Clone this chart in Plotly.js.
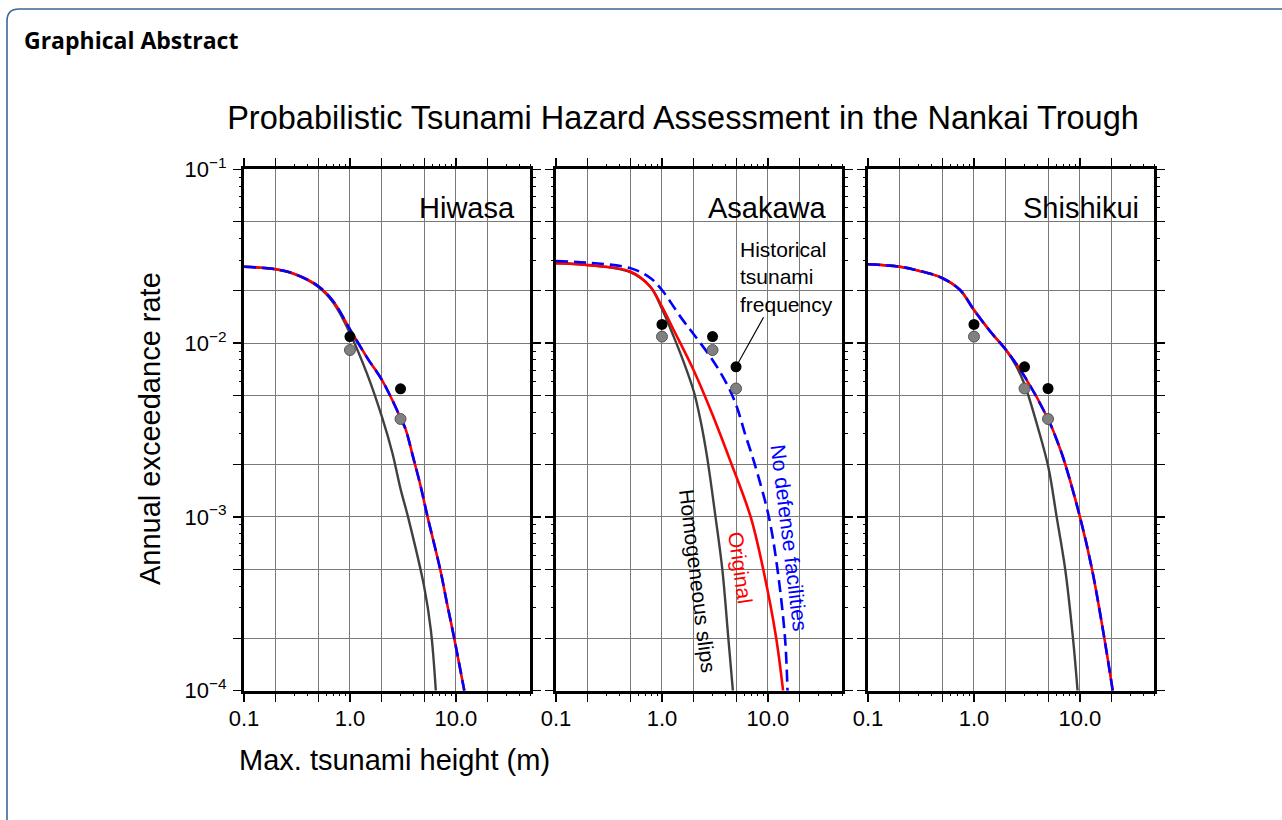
<!DOCTYPE html>
<html>
<head>
<meta charset="utf-8">
<script src="https://cdn.plot.ly/plotly-3.0.1.min.js"></script>
<style>
  html, body { margin: 0; padding: 0; background: #ffffff; }
  #chart { width: 1282px; height: 820px; }
</style>
</head>
<body>
<div id="chart"></div>
<script>
// ---------------- DATA ----------------
const stations = ['Hiwasa', 'Asakawa', 'Shishikui'];

// Hiwasa
const hiwasaHomogeneousX = [0.1, 0.2, 0.3, 0.5, 0.7, 1.0, 1.46, 2.0, 2.51, 3.0, 3.53, 5.0, 5.8, 6.46];
const hiwasaHomogeneousY = [0.0275, 0.0266, 0.0249, 0.0211, 0.0170, 0.0114, 0.00658, 0.00377, 0.00234, 0.00145, 0.001, 0.0004, 0.000223, 0.0001];
const hiwasaOriginalX = [0.1, 0.2, 0.3, 0.5, 0.7, 1.0, 1.46, 2.0, 2.5, 3.0, 3.36, 3.91, 4.61, 5.4, 7.1, 8.22, 9.64, 12.0];
const hiwasaOriginalY = [0.0275, 0.0266, 0.0250, 0.0213, 0.0173, 0.0120, 0.0082, 0.00615, 0.00472, 0.00371, 0.00318, 0.00225, 0.00153, 0.001, 0.0005, 0.00032, 0.0002, 0.0001];
const hiwasaNoDefenseX = [0.1, 0.2, 0.3, 0.5, 0.7, 1.0, 1.46, 2.0, 2.5, 3.0, 3.36, 3.91, 4.61, 5.4, 7.1, 8.22, 9.64, 12.0];
const hiwasaNoDefenseY = [0.0275, 0.0266, 0.0250, 0.0213, 0.0173, 0.0120, 0.0082, 0.00615, 0.00472, 0.00371, 0.00318, 0.00225, 0.00153, 0.001, 0.0005, 0.00032, 0.0002, 0.0001];
const hiwasaHistX = [1, 3];
const hiwasaHistBlack = [0.0109, 0.00546];
const hiwasaHistGray = [0.00912, 0.00366];

// Asakawa
const asakawaHomogeneousX = [0.1, 0.2, 0.5, 0.776, 1.0, 1.29, 1.6, 2.0, 2.31, 2.67, 3.2, 3.71, 4.23, 4.67];
const asakawaHomogeneousY = [0.0288, 0.0281, 0.0256, 0.0211, 0.0157, 0.0109, 0.0078, 0.00525, 0.0036, 0.0022, 0.001, 0.0005, 0.0002, 0.0001];
const asakawaOriginalX = [0.1, 0.202, 0.502, 0.776, 1.0, 1.29, 2.0, 3.0, 4.44, 6.87, 8.87, 11.86, 13.9];
const asakawaOriginalY = [0.0288, 0.0281, 0.0258, 0.0211, 0.0162, 0.0119, 0.00693, 0.00387, 0.00208, 0.001, 0.000525, 0.000208, 0.0001];
const asakawaNoDefenseX = [0.1, 0.202, 0.502, 0.776, 1.0, 1.49, 2.0, 3.0, 4.13, 5.07, 6.16, 7.38, 10.2, 12.3, 14.5, 15.3];
const asakawaNoDefenseY = [0.0297, 0.029, 0.027, 0.0237, 0.0202, 0.0142, 0.0112, 0.0080, 0.00576, 0.00432, 0.00293, 0.00208, 0.001, 0.0005, 0.0002, 0.0001];
const asakawaHistX = [1, 3, 5];
const asakawaHistBlack = [0.0128, 0.0109, 0.0073];
const asakawaHistGray = [0.0109, 0.00912, 0.00548];

// Shishikui
const shishikuiHomogeneousX = [0.1, 0.2, 0.3, 0.5, 0.74, 1.0, 1.42, 2.0, 2.5, 3.0, 4.06, 5.05, 6.03, 7.26, 8.6, 9.5];
const shishikuiHomogeneousY = [0.0284, 0.0275, 0.0261, 0.0237, 0.0202, 0.0155, 0.0117, 0.00915, 0.0074, 0.0058, 0.00318, 0.00192, 0.001, 0.0005, 0.0002, 0.0001];
const shishikuiOriginalX = [0.1, 0.2, 0.3, 0.5, 0.74, 1.0, 1.42, 2.0, 3.0, 5.0, 6.0, 7.0, 10, 13, 17, 20.4];
const shishikuiOriginalY = [0.0284, 0.0275, 0.0261, 0.0237, 0.0202, 0.0155, 0.0117, 0.00915, 0.00643, 0.00366, 0.00281, 0.00216, 0.001, 0.0005, 0.0002, 0.0001];
const shishikuiNoDefenseX = [0.1, 0.2, 0.3, 0.5, 0.74, 1.0, 1.42, 2.0, 3.0, 5.0, 6.0, 7.0, 10, 13, 17, 20.4];
const shishikuiNoDefenseY = [0.0284, 0.0275, 0.0261, 0.0237, 0.0202, 0.0155, 0.0117, 0.00915, 0.00643, 0.00366, 0.00281, 0.00216, 0.001, 0.0005, 0.0002, 0.0001];
const shishikuiHistX = [1, 3, 5];
const shishikuiHistBlack = [0.0128, 0.0073, 0.00548];
const shishikuiHistGray = [0.0109, 0.00548, 0.00366];

// Ticks / grid
const xTickVals = [0.1, 1, 10];
const xTickText = ['0.1', '1.0', '10.0'];
const xGridVals = [0.2, 0.5, 2, 5, 20];
const xSmallTickVals = [0.3, 0.4, 0.6, 0.7, 0.8, 0.9, 3, 4, 6, 7, 8, 9, 30, 40, 50];
const yTickVals = [1e-4, 1e-3, 1e-2, 1e-1];
const yTickText = ['10<sup>−4</sup>', '10<sup>−3</sup>', '10<sup>−2</sup>', '10<sup>−1</sup>'];
const yGridVals = [2e-4, 5e-4, 2e-3, 5e-3, 2e-2, 5e-2];
const ySmallTickVals = [3e-4, 4e-4, 6e-4, 7e-4, 8e-4, 9e-4, 3e-3, 4e-3, 6e-3, 7e-3, 8e-3, 9e-3,
                        3e-2, 4e-2, 6e-2, 7e-2, 8e-2, 9e-2];

const chartTitle = 'Probabilistic Tsunami Hazard Assessment in the Nankai Trough';
const xTitle = 'Max. tsunami height (m)';
const yTitle = 'Annual exceedance rate';
const headerText = 'Graphical Abstract';
const historicalLabel = 'Historical<br>tsunami<br>frequency';
const curveLabels = ['Homogeneous slips', 'Original', 'No defense facilities'];

// ---------------- STYLE / LAYOUT ----------------
const W = 1282, H = 820;
const FONT = '"Liberation Sans", Arial, Helvetica, sans-serif';
const px = v => v / W;
const py = v => 1 - v / H;
const GRID = '#7a7a7a';

const panelsPx = [[244, 530], [556, 842], [868, 1154]];
const yTopPx = 169.3, yBotPx = 690.7;

const panelData = [
  { hx: hiwasaHomogeneousX, hy: hiwasaHomogeneousY, ox: hiwasaOriginalX, oy: hiwasaOriginalY,
    nx: hiwasaNoDefenseX, ny: hiwasaNoDefenseY, dx: hiwasaHistX, db: hiwasaHistBlack, dg: hiwasaHistGray },
  { hx: asakawaHomogeneousX, hy: asakawaHomogeneousY, ox: asakawaOriginalX, oy: asakawaOriginalY,
    nx: asakawaNoDefenseX, ny: asakawaNoDefenseY, dx: asakawaHistX, db: asakawaHistBlack, dg: asakawaHistGray },
  { hx: shishikuiHomogeneousX, hy: shishikuiHomogeneousY, ox: shishikuiOriginalX, oy: shishikuiOriginalY,
    nx: shishikuiNoDefenseX, ny: shishikuiNoDefenseY, dx: shishikuiHistX, db: shishikuiHistBlack, dg: shishikuiHistGray }
];

const xName = i => i === 0 ? 'x' : 'x' + (i + 1);
const yName = i => i === 0 ? 'y' : 'y' + (i + 1);
const xOver = i => 'x' + (i + 4);   // overlay x axis carrying the small ticks
const yOver = i => 'y' + (i + 4);   // overlay y axis carrying the small ticks

const traces = [];
panelData.forEach((p, i) => {
  const xa = xName(i), ya = yName(i);
  const sm = { shape: 'spline', smoothing: 1.0 };
  traces.push({ x: p.hx, y: p.hy, xaxis: xa, yaxis: ya, mode: 'lines', name: curveLabels[0],
    line: Object.assign({ color: '#404040', width: 2.4 }, sm), hoverinfo: 'skip' });
  traces.push({ x: p.ox, y: p.oy, xaxis: xa, yaxis: ya, mode: 'lines', name: curveLabels[1],
    line: Object.assign({ color: '#ff0000', width: 2.6 }, sm), hoverinfo: 'skip' });
  traces.push({ x: p.nx, y: p.ny, xaxis: xa, yaxis: ya, mode: 'lines', name: curveLabels[2],
    line: Object.assign({ color: '#0000ff', width: 2.6, dash: '12px,6px' }, sm), hoverinfo: 'skip' });
  // historical frequency dots (drawn on the overlay subplots so those axes are rendered)
  traces.push({ x: p.dx, y: p.dg, xaxis: xOver(i), yaxis: ya, mode: 'markers', name: 'hist2',
    marker: { color: '#808080', size: 11, line: { color: '#555555', width: 1 } }, hoverinfo: 'skip' });
  traces.push({ x: p.dx, y: p.db, xaxis: xa, yaxis: yOver(i), mode: 'markers', name: 'hist1',
    marker: { color: '#000000', size: 11, line: { color: '#000000', width: 0 } }, hoverinfo: 'skip' });
});

const XR = [-1, Math.log10(50)], YR = [-4, -1];

function xAxis(i) {
  return {
    type: 'log', range: XR,
    domain: [px(panelsPx[i][0]), px(panelsPx[i][1])],
    anchor: yName(i),
    tickmode: 'array', tickvals: xTickVals, ticktext: xTickText,
    ticks: 'outside', ticklen: 8, tickwidth: 1.3, tickcolor: '#000',
    ticklabelstandoff: -2,
    showgrid: true, gridcolor: GRID, gridwidth: 1,
    showline: true, linecolor: '#000', linewidth: 3, mirror: 'allticks',
    zeroline: false, automargin: false, fixedrange: true,
    tickfont: { family: FONT, size: 22, color: '#000' },
    minor: { tickmode: 'array', tickvals: xGridVals, ticks: 'outside', ticklen: 6,
      tickwidth: 1, tickcolor: '#000', showgrid: true, gridcolor: GRID, gridwidth: 1 }
  };
}
function xOverAxis(i) {
  return {
    type: 'log', range: XR, overlaying: xName(i), anchor: yName(i), side: 'bottom',
    tickmode: 'array', tickvals: xSmallTickVals, ticks: 'outside', ticklen: 4.5, tickwidth: 1,
    tickcolor: '#000', showticklabels: false, showgrid: false, showline: false,
    mirror: 'allticks', zeroline: false, fixedrange: true
  };
}
function yAxis(i) {
  return {
    type: 'log', range: YR,
    domain: [py(yBotPx), py(yTopPx)],
    anchor: xName(i),
    tickmode: 'array', tickvals: yTickVals, ticktext: yTickText,
    showticklabels: i === 0,
    ticks: 'outside', ticklen: 8, tickwidth: 1.3, tickcolor: '#000',
    ticklabelstandoff: 2,
    showgrid: true, gridcolor: GRID, gridwidth: 1,
    showline: true, linecolor: '#000', linewidth: 3, mirror: 'allticks',
    zeroline: false, automargin: false, fixedrange: true,
    tickfont: { family: FONT, size: 22, color: '#000' },
    minor: { tickmode: 'array', tickvals: yGridVals, ticks: 'outside', ticklen: 6,
      tickwidth: 1, tickcolor: '#000', showgrid: true, gridcolor: GRID, gridwidth: 1 }
  };
}
function yOverAxis(i) {
  return {
    type: 'log', range: YR, overlaying: yName(i), anchor: xName(i), side: 'left',
    tickmode: 'array', tickvals: ySmallTickVals, ticks: 'outside', ticklen: 4.5, tickwidth: 1,
    tickcolor: '#000', showticklabels: false, showgrid: false, showline: false,
    mirror: 'allticks', zeroline: false, fixedrange: true
  };
}

const L = Math.log10;
const annotations = [];
stations.forEach((s, i) => {
  annotations.push({
    text: s, xref: xName(i) + ' domain', yref: yName(i) + ' domain',
    x: 1, xanchor: 'right', xshift: -13, y: 0.926, yanchor: 'middle', showarrow: false,
    font: { family: FONT, size: 29, color: '#000' }
  });
});
annotations.push({
  text: historicalLabel, xref: 'x2', yref: 'y2', x: L(5), y: L(0.0073),
  ax: 50, ay: -90, axref: 'pixel', ayref: 'pixel', align: 'left',
  showarrow: true, arrowhead: 0, arrowwidth: 1.1, arrowcolor: '#000', standoff: 4,
  font: { family: FONT, size: 21, color: '#000' }
});
annotations.push({
  text: curveLabels[0], xref: 'x2', yref: 'y2', x: L(2.15), y: L(4.28e-4), textangle: 83,
  showarrow: false, font: { family: FONT, size: 21, color: '#000' }
});
annotations.push({
  text: curveLabels[1], xref: 'x2', yref: 'y2', x: L(5.53), y: L(5.14e-4), textangle: 82,
  showarrow: false, font: { family: FONT, size: 21, color: '#ff0000' }
});
annotations.push({
  text: curveLabels[2], xref: 'x2', yref: 'y2', x: L(15.8), y: L(7.57e-4), textangle: 83,
  showarrow: false, font: { family: FONT, size: 21, color: '#0000ff' }
});
annotations.push({
  text: yTitle, xref: 'paper', yref: 'paper', x: px(150), y: py(429), textangle: -90,
  xanchor: 'center', yanchor: 'middle', showarrow: false,
  font: { family: FONT, size: 29, color: '#000' }
});
annotations.push({
  text: xTitle, xref: 'paper', yref: 'paper', x: px(394.5), y: py(760),
  xanchor: 'center', yanchor: 'middle', showarrow: false,
  font: { family: FONT, size: 29, color: '#000' }
});
annotations.push({
  text: headerText, xref: 'paper', yref: 'paper', x: px(22), y: py(40),
  xanchor: 'left', yanchor: 'middle', showarrow: false,
  font: { family: '"Open Sans", "Noto Sans", sans-serif', size: 23, weight: 700, color: '#000' }
});

const layout = {
  width: W, height: H,
  margin: { l: 0, r: 0, t: 0, b: 0, pad: 0 },
  paper_bgcolor: '#ffffff', plot_bgcolor: '#ffffff',
  showlegend: false,
  title: { text: chartTitle, xref: 'paper', yref: 'paper', x: px(683), y: py(118),
    xanchor: 'center', yanchor: 'middle', font: { family: FONT, size: 32.5, color: '#000' } },
  xaxis: xAxis(0), xaxis2: xAxis(1), xaxis3: xAxis(2),
  yaxis: yAxis(0), yaxis2: yAxis(1), yaxis3: yAxis(2),
  xaxis4: xOverAxis(0), xaxis5: xOverAxis(1), xaxis6: xOverAxis(2),
  yaxis4: yOverAxis(0), yaxis5: yOverAxis(1), yaxis6: yOverAxis(2),
  annotations: annotations,
  shapes: [{
    type: 'path', xref: 'paper', yref: 'paper',
    path: `M ${px(7)},${py(822)} L ${px(7)},${py(21)} Q ${px(7)},${py(9)} ${px(19)},${py(9)} L ${px(1284)},${py(9)}`,
    line: { color: '#3d6794', width: 1.6 }, layer: 'above'
  }]
};

Plotly.newPlot('chart', traces, layout, { staticPlot: true, displayModeBar: false });
</script>
</body>
</html>
